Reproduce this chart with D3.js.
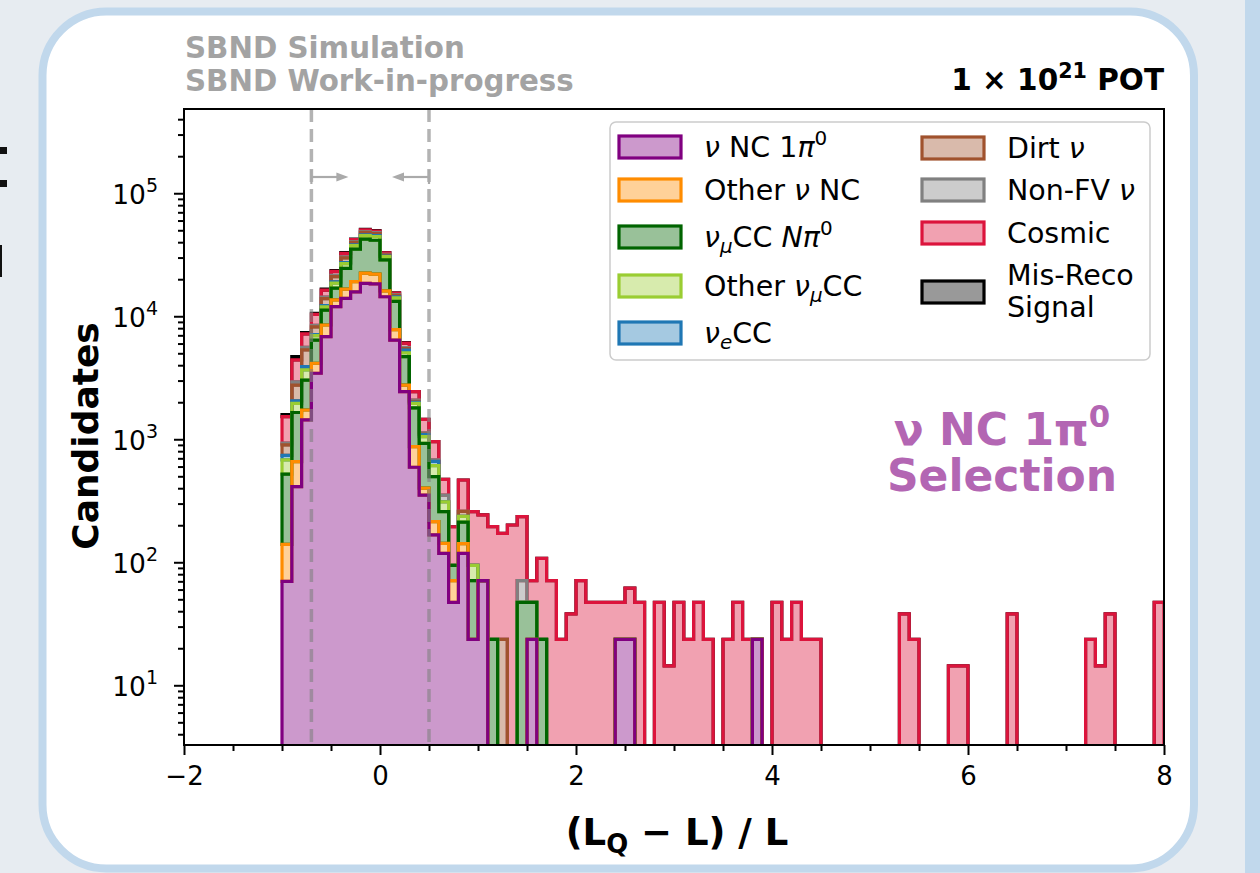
<!DOCTYPE html>
<html><head><meta charset="utf-8">
<script src="https://cdn.jsdelivr.net/npm/d3@7"></script>
<style>
html,body{margin:0;padding:0;background:#e7ecf1;}
svg{display:block;}
text{font-family:"DejaVu Sans",sans-serif;}
</style></head><body>
<svg id="chart" width="1260" height="873"></svg>
<script>
// ---------------- DATA ----------------
const binEdges = [-1.0,-0.9,-0.8,-0.7,-0.6,-0.5,-0.4,-0.3,-0.2,-0.1,0.0,0.1,0.2,0.3,0.4,0.5,0.6,0.7,0.8,0.9,
  1.0,1.1,1.2,1.3,1.4,1.5,1.6,1.7,1.8,1.9,2.0,2.1,2.2,2.3,2.4,2.5,2.6,2.7,2.8,2.9,
  3.0,3.1,3.2,3.3,3.4,3.5,3.6,3.7,3.8,3.9,4.0,4.1,4.2,4.3,4.4,4.5,4.6,4.7,4.8,4.9,
  5.0,5.1,5.2,5.3,5.4,5.5,5.6,5.7,5.8,5.9,6.0,6.1,6.2,6.3,6.4,6.5,6.6,6.7,6.8,6.9,
  7.0,7.1,7.2,7.3,7.4,7.5,7.6,7.7,7.8,7.9,8.0];

const signalNC1pi0 = [70,412,1435,3440,6820,11970,14000,15800,18500,18300,
  14400,6400,2440,592,352,167,118,47.2,118,23.6,
  70.8,0,0,0,0,23.6,0,0,0,0,
  0,0,0,0,23.6,23.6,0,0,0,0,
  0,0,0,0,0,0,0,0,23.6,0,
  0,0,0,0,0,0,0,0,0,0, 0,0,0,0,0,0,0,0,0,0, 0,0,0,0,0,0,0,0,0,0, 0,0,0,0,0,0,0,0,0,0];
const otherNC = [70,246,295,710,1670,1630,2600,3300,3900,3700,
  1700,1400,310,278,48,47,24.6,23.6,23.6,0,
  0,0,0,0,0,0,0,0,0,0, 0,0,0,0,0,0,0,0,0,0, 0,0,0,0,0,0,0,0,0,0,
  0,0,0,0,0,0,0,0,0,0, 0,0,0,0,0,0,0,0,0,0, 0,0,0,0,0,0,0,0,0,0, 0,0,0,0,0,0,0,0,0,0];
const numuCCNpi0 = [380,992,1290,2250,2710,3300,7900,16000,19900,19500,
  12600,5400,1950,930,527,283,115,23.6,70.8,47.2,
  0,23.6,0,0,47.2,23.6,23.6,0,0,0,
  0,0,0,0,0,0,0,0,0,0, 0,0,0,0,0,0,0,0,0,0,
  0,0,0,0,0,0,0,0,0,0, 0,0,0,0,0,0,0,0,0,0, 0,0,0,0,0,0,0,0,0,0, 0,0,0,0,0,0,0,0,0,0];
const otherNumuCC = [160,310,640,550,700,1700,2300,2400,3000,3000,
  1800,900,350,160,123,113,53,0,23.6,23.6,
  0,0,0,0,0,0,0,0,0,0, 0,0,0,0,0,0,0,0,0,0, 0,0,0,0,0,0,0,0,0,0,
  0,0,0,0,0,0,0,0,0,0, 0,0,0,0,0,0,0,0,0,0, 0,0,0,0,0,0,0,0,0,0, 0,0,0,0,0,0,0,0,0,0];
const nueCC = [60,90,240,150,300,400,500,500,700,700,
  400,300,250,40,40,50,0,0,0,0,
  0,0,0,0,0,0,0,0,0,0, 0,0,0,0,0,0,0,0,0,0, 0,0,0,0,0,0,0,0,0,0,
  0,0,0,0,0,0,0,0,0,0, 0,0,0,0,0,0,0,0,0,0, 0,0,0,0,0,0,0,0,0,0, 0,0,0,0,0,0,0,0,0,0];
const dirtNu = [160,710,1420,1100,1700,2000,2500,1800,2000,1800,
  700,400,150,30,10,0,0,0,23.6,0,
  0,0,23.6,0,0,0,0,0,0,0,
  0,0,0,0,0,0,0,0,0,0, 0,0,0,0,0,0,0,0,0,0,
  0,0,0,0,0,0,0,0,0,0, 0,0,0,0,0,0,0,0,0,0, 0,0,0,0,0,0,0,0,0,0, 0,0,0,0,0,0,0,0,0,0];
const nonFVNu = [30,170,280,250,400,500,600,700,800,800,
  300,200,100,50,30,20,41,0,0,0,
  0,0,0,0,23.6,0,0,0,0,0,
  0,0,0,0,0,0,0,0,0,0, 0,0,0,0,0,0,0,0,0,0,
  0,0,0,0,0,0,0,0,0,0, 0,0,0,0,0,0,0,0,0,0, 0,0,0,0,0,0,0,0,0,0, 0,0,0,0,0,0,0,0,0,0];
const cosmic = [600,1490,1600,1900,2000,1700,2100,1500,1700,1500,
  800,400,500,360,323,275,121,100,207,164,
  172,171,148,201,164,23.6,84,70.8,23.6,38,
  70.8,47.2,47.2,47.2,23.6,38,47.2,0,47.2,14.4,
  47.2,23.6,47.2,23.6,0,23.6,47.2,23.6,0,0,
  47.2,23.6,47.2,23.6,23.6,0,0,0,0,0,
  0,0,0,38,23.6,0,0,0,14.4,14.4,
  0,0,0,0,38,0,0,0,0,0,
  0,0,23.6,14.4,38,0,0,0,0,47.2];
const misRecoSignal = [60,280,160,220,300,300,400,300,400,400,
  200,100,50,0,0,0,0,0,0,0,
  0,0,0,0,0,0,0,0,0,0, 0,0,0,0,0,0,0,0,0,0, 0,0,0,0,0,0,0,0,0,0,
  0,0,0,0,0,0,0,0,0,0, 0,0,0,0,0,0,0,0,0,0, 0,0,0,0,0,0,0,0,0,0, 0,0,0,0,0,0,0,0,0,0];

const xMajorTicks = [-2, 0, 2, 4, 6, 8];
const yMajorTicks = [10, 100, 1000, 10000, 100000];
const cutLines = [-0.7, 0.5];

// ---------------- STYLE ----------------
const layers = [
  {data: signalNC1pi0, color: "#800080"},
  {data: otherNC, color: "#ff8c00"},
  {data: numuCCNpi0, color: "#006400"},
  {data: otherNumuCC, color: "#9acd32"},
  {data: nueCC, color: "#1f77b4"},
  {data: dirtNu, color: "#a0522d"},
  {data: nonFVNu, color: "#808080"},
  {data: cosmic, color: "#dc143c"},
  {data: misRecoSignal, color: "#000000"}
];

const svg = d3.select("#chart");
const W = 1260, H = 873;
const P = {left: 184, right: 1164, top: 109, bottom: 745};

// page decorations
svg.append("rect").attr("x",0).attr("y",0).attr("width",W).attr("height",H).attr("fill","#e7ecf1");
svg.append("rect").attr("x",1245).attr("y",0).attr("width",15).attr("height",H).attr("fill","#c1d8ec");
svg.append("rect").attr("x",42.5).attr("y",11.5).attr("width",1151.5).attr("height",857).attr("rx",64).attr("ry",64)
  .attr("fill","#ffffff").attr("stroke","#c1d8ec").attr("stroke-width",8);
svg.append("rect").attr("x",0).attr("y",147).attr("width",7).attr("height",7).attr("fill","#111");
svg.append("rect").attr("x",0).attr("y",180).attr("width",7).attr("height",7).attr("fill","#111");
svg.append("rect").attr("x",0).attr("y",245).attr("width",2).attr("height",32).attr("fill","#111");

const x = d3.scaleLinear().domain([-2, 8]).range([P.left, P.right]);
const y = d3.scaleLog().domain([3.27, 4.84e5]).range([P.bottom, P.top]);
const yv = v => y(Math.max(v, 1));

svg.append("defs").append("clipPath").attr("id","plotclip").append("rect")
  .attr("x",P.left).attr("y",P.top).attr("width",P.right-P.left).attr("height",P.bottom-P.top);

// cumulative stacks
const nb = binEdges.length - 1;
let prev = new Array(nb).fill(0);
const stacks = layers.map(l => {
  const lower = prev.slice();
  const upper = prev.map((p, i) => p + l.data[i]);
  prev = upper;
  return {lower, upper, color: l.color};
});

function layerPath(lower, upper) {
  const pts = [];
  pts.push([x(binEdges[0]), yv(lower[0])]);
  for (let i = 0; i < nb; i++) {
    pts.push([x(binEdges[i]), yv(upper[i])]);
    pts.push([x(binEdges[i+1]), yv(upper[i])]);
  }
  pts.push([x(binEdges[nb]), yv(lower[nb-1])]);
  for (let i = nb - 1; i >= 0; i--) {
    pts.push([x(binEdges[i+1]), yv(lower[i])]);
    pts.push([x(binEdges[i]), yv(lower[i])]);
  }
  return "M" + pts.map(p => p[0].toFixed(2) + "," + p[1].toFixed(2)).join("L") + "Z";
}

const hist = svg.append("g").attr("clip-path","url(#plotclip)");
stacks.slice().reverse().forEach(s => {
  const c = d3.color(s.color); c.opacity = 0.4;
  hist.append("path").attr("d", layerPath(s.lower, s.upper))
    .attr("fill", c.formatRgb()).attr("stroke", s.color).attr("stroke-width", 3.2)
    .attr("stroke-linejoin","miter");
});

// cut lines
cutLines.forEach(v => {
  hist.append("line").attr("x1",x(v)).attr("x2",x(v)).attr("y1",P.top).attr("y2",P.bottom)
    .attr("stroke","rgba(128,128,128,0.6)").attr("stroke-width",3.5).attr("stroke-dasharray","13,7");
});
// arrows
const arrowY = 177;
function arrow(x0, x1) {
  const g = svg.append("g").attr("stroke","#aaaaaa").attr("fill","#aaaaaa");
  g.append("line").attr("x1",x0).attr("x2",x0).attr("y1",arrowY-7).attr("y2",arrowY+7).attr("stroke-width",2.2);
  const dir = Math.sign(x1 - x0);
  g.append("line").attr("x1",x0).attr("x2",x1 - dir*9).attr("y1",arrowY).attr("y2",arrowY).attr("stroke-width",2.2);
  g.append("path").attr("d",`M${x1},${arrowY}L${x1-dir*12},${arrowY-4.5}L${x1-dir*12},${arrowY+4.5}Z`).attr("stroke","none");
}
arrow(x(cutLines[0]), x(cutLines[0]) + 37);
arrow(x(cutLines[1]), x(cutLines[1]) - 37);

// axes
const xMinor = d3.range(-2, 8.01, 0.5).filter(v => !xMajorTicks.includes(v));
const ax = svg.append("g").attr("transform",`translate(0,${P.bottom})`);
ax.call(d3.axisBottom(x).tickValues(xMajorTicks).tickSize(10).tickPadding(12));
const axm = svg.append("g").attr("transform",`translate(0,${P.bottom})`);
axm.call(d3.axisBottom(x).tickValues(xMinor).tickSize(6).tickFormat(""));
[ax, axm].forEach(g => { g.select(".domain").remove(); g.selectAll("line").attr("stroke","#000").attr("stroke-width",2); });
ax.selectAll("text").attr("font-size",26).attr("fill","#000").attr("font-family","DejaVu Sans");

const yMinor = [];
[1, 10, 100, 1000, 10000, 100000].forEach(d => { for (let k = 2; k <= 9; k++) { const v = k*d; if (v > 3.27 && v < 4.84e5) yMinor.push(v); } });
const ay = svg.append("g").attr("transform",`translate(${P.left},0)`);
ay.call(d3.axisLeft(y).tickValues(yMajorTicks).tickSize(10).tickPadding(12).tickFormat(""));
const aym = svg.append("g").attr("transform",`translate(${P.left},0)`);
aym.call(d3.axisLeft(y).tickValues(yMinor).tickSize(6).tickFormat(""));
[ay, aym].forEach(g => { g.select(".domain").remove(); g.selectAll("line").attr("stroke","#000").attr("stroke-width",2); });
ay.selectAll(".tick").each(function(d) {
  const t = d3.select(this).append("text").attr("x",-26).attr("dy","0.38em").attr("text-anchor","end")
    .attr("font-size",26.5).attr("fill","#000").attr("font-family","DejaVu Sans");
  t.append("tspan").text("10");
  t.append("tspan").text(Math.round(Math.log10(d))).attr("font-size",19).attr("dy","-0.6em");
});

// frame
svg.append("rect").attr("x",P.left).attr("y",P.top).attr("width",P.right-P.left).attr("height",P.bottom-P.top)
  .attr("fill","none").attr("stroke","#000").attr("stroke-width",2);

// rich text helper
function rich(sel, segs, size) {
  let shift = 0;
  segs.forEach(s => {
    const ts = sel.append("tspan").text(s.t);
    let target = 0, fs = size;
    if (s.sup) { target = -0.42*size; fs = 0.7*size; }
    if (s.sub) { target = 0.22*size; fs = 0.7*size; }
    ts.attr("dy", target - shift).attr("font-size", fs);
    if (s.it) ts.attr("font-style","italic");
    shift = target;
  });
}

// axis labels
const xl = svg.append("text").attr("x",677).attr("y",845).attr("text-anchor","middle")
  .attr("font-weight","bold").attr("fill","#000");
rich(xl, [{t:"(L"},{t:"Q",sub:true},{t:" − L) / L"}], 37);
svg.append("text").attr("transform",`translate(98,${(P.top+P.bottom)/2 + 9}) rotate(-90)`).attr("text-anchor","middle")
  .attr("font-weight","bold").attr("font-size",36).attr("fill","#000").text("Candidates");

// header texts
svg.append("text").attr("x",185).attr("y",58).attr("font-weight","bold").attr("font-size",29.3).attr("fill","#a3a3a3").text("SBND Simulation");
svg.append("text").attr("x",185).attr("y",91).attr("font-weight","bold").attr("font-size",29.3).attr("fill","#a3a3a3").text("SBND Work-in-progress");
const pot = svg.append("text").attr("x",P.right).attr("y",90).attr("text-anchor","end").attr("font-weight","bold").attr("fill","#000");
rich(pot, [{t:"1 × 10"},{t:"21",sup:true},{t:" POT"}], 29.5);

// selection label
const sel1 = svg.append("text").attr("x",1002).attr("y",445).attr("text-anchor","middle").attr("font-weight","bold").attr("fill","#b366b3");
rich(sel1, [{t:"ν NC 1π"},{t:"0",sup:true}], 44);
svg.append("text").attr("x",1002).attr("y",491).attr("text-anchor","middle").attr("font-weight","bold").attr("font-size",44).attr("fill","#b366b3").text("Selection");

// legend
const lg = svg.append("g");
lg.append("rect").attr("x",610).attr("y",122).attr("width",540).attr("height",238).attr("rx",6)
  .attr("fill","rgba(255,255,255,0.8)").attr("stroke","#cccccc").attr("stroke-width",1.5);
const legendItems = [
  {i:0, col:0, cy:147, segs:[{t:"ν",it:true},{t:" NC 1"},{t:"π",it:true},{t:"0",sup:true}]},
  {i:1, col:0, cy:190, segs:[{t:"Other "},{t:"ν",it:true},{t:" NC"}]},
  {i:2, col:0, cy:237, segs:[{t:"ν",it:true},{t:"μ",it:true,sub:true},{t:"CC "},{t:"Nπ",it:true},{t:"0",sup:true}]},
  {i:3, col:0, cy:286, segs:[{t:"Other "},{t:"ν",it:true},{t:"μ",it:true,sub:true},{t:"CC"}]},
  {i:4, col:0, cy:333, segs:[{t:"ν",it:true},{t:"e",it:true,sub:true},{t:"CC"}]},
  {i:5, col:1, cy:148, segs:[{t:"Dirt "},{t:"ν",it:true}]},
  {i:6, col:1, cy:190, segs:[{t:"Non-FV "},{t:"ν",it:true}]},
  {i:7, col:1, cy:233, segs:[{t:"Cosmic"}]},
  {i:8, col:1, cy:292, segs:null}
];
const colX = [619, 922], textX = [704, 1007];
const LFS = 28.5;
legendItems.forEach(it => {
  const c = d3.color(layers[it.i].color); c.opacity = 0.4;
  lg.append("rect").attr("x",colX[it.col]).attr("y",it.cy-11).attr("width",62).attr("height",22)
    .attr("fill",c.formatRgb()).attr("stroke",layers[it.i].color).attr("stroke-width",3.2);
  if (it.segs) {
    const t = lg.append("text").attr("x",textX[it.col]).attr("y",it.cy+10).attr("fill","#000");
    rich(t, it.segs, LFS);
  } else {
    lg.append("text").attr("x",textX[it.col]).attr("y",it.cy-7).attr("font-size",LFS).attr("fill","#000").text("Mis-Reco");
    lg.append("text").attr("x",textX[it.col]).attr("y",it.cy+25).attr("font-size",LFS).attr("fill","#000").text("Signal");
  }
});
</script>
</body></html>
